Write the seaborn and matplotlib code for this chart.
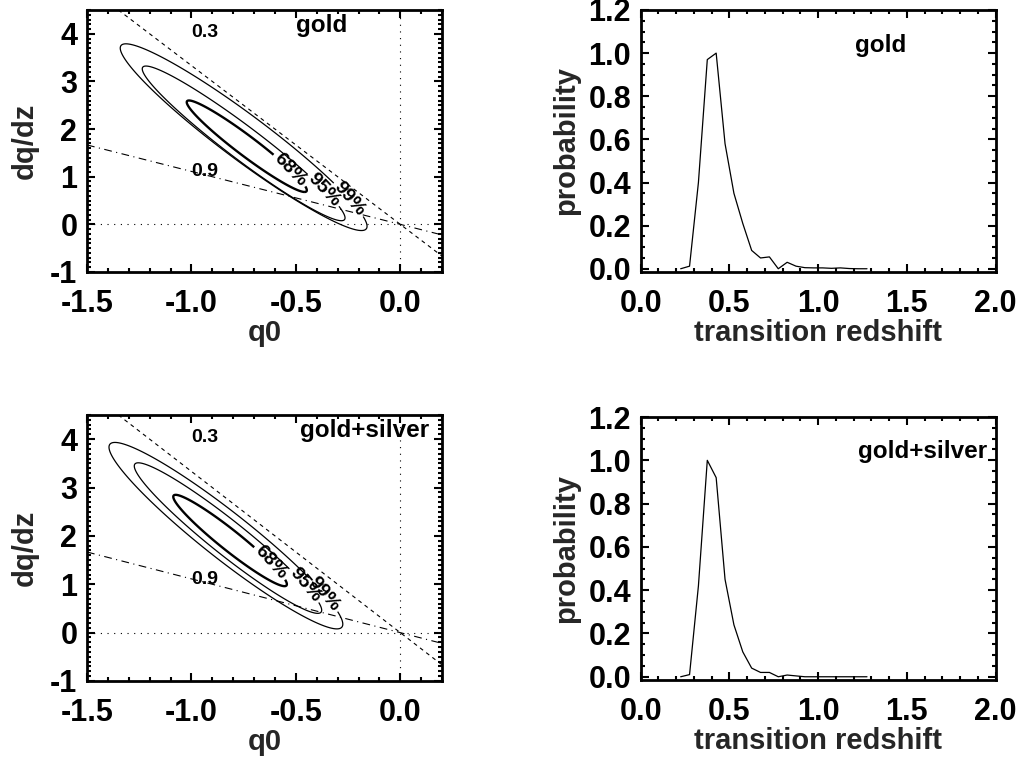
import numpy as np
import matplotlib
matplotlib.use("Agg")
import matplotlib.pyplot as plt
import seaborn as sns
from matplotlib.ticker import MultipleLocator, FormatStrFormatter

# transition redshift probability curves
z_bins = [0.225, 0.275, 0.325, 0.375, 0.425, 0.475, 0.525, 0.575, 0.625, 0.675,
          0.725, 0.775, 0.825, 0.875, 0.925, 0.975, 1.025, 1.075, 1.125, 1.175,
          1.225, 1.275]
prob_gold = [0.0, 0.012, 0.40, 0.97, 1.0, 0.58, 0.35, 0.21, 0.085, 0.05,
             0.055, 0.0, 0.03, 0.012, 0.005, 0.004, 0.004, 0.002, 0.004, 0.001,
             0.0, 0.0]
prob_gs = [0.0, 0.01, 0.42, 1.0, 0.92, 0.45, 0.24, 0.115, 0.04, 0.02,
           0.02, 0.0, 0.008, 0.004, 0.0, 0.0, 0.0, 0.0, 0.0, 0.0,
           0.0, 0.0]

# confidence ellipses in the (q0, dq/dz) plane: 68%, 95%, 99%
conf_labels = ["68%", "95%", "99%"]
gold_q0 = [-0.735, -0.75, -0.75]
gold_dqdz = [1.64, 1.70, 1.83]
gold_major = [1.0, 1.69, 2.04]
gold_minor = [0.075, 0.125, 0.17]
gold_slope = -3.45
gold_lab_pos = [(-0.53, 1.13), (-0.36, 0.75), (-0.26, 0.47)]

gs_q0 = [-0.815, -0.825, -0.835]
gs_dqdz = [1.905, 1.955, 2.005]
gs_major = [0.98, 1.615, 2.0]
gs_minor = [0.075, 0.125, 0.17]
gs_slope = -3.6
gs_lab_pos = [(-0.62, 1.45), (-0.455, 0.99), (-0.37, 0.78)]

# transition redshift lines q0 + z_t dq/dz = 0
zt_values = [0.3, 0.9]
zt_label_pos = [(-0.935, 4.03), (-0.935, 1.1)]

sns.set_theme(style="ticks")
plt.rcParams['font.family'] = ['Liberation Sans', 'DejaVu Sans']
plt.rcParams['font.weight'] = 'bold'
plt.rcParams['axes.unicode_minus'] = False

fig = plt.figure(figsize=(10.19, 7.57), dpi=100)
ax_tl = fig.add_axes([0.0854, 0.6407, 0.3484, 0.3461])
ax_tr = fig.add_axes([0.6288, 0.6407, 0.3483, 0.3461])
ax_bl = fig.add_axes([0.0854, 0.1004, 0.3484, 0.3514])
ax_br = fig.add_axes([0.6288, 0.1017, 0.3483, 0.3474])


def style_axes(ax, xmaj, xmin, ymaj, ymin, yfmt):
    for s in ax.spines.values():
        s.set_linewidth(2.0)
        s.set_color('black')
    ax.xaxis.set_major_locator(MultipleLocator(xmaj))
    ax.xaxis.set_minor_locator(MultipleLocator(xmin))
    ax.yaxis.set_major_locator(MultipleLocator(ymaj))
    ax.yaxis.set_minor_locator(MultipleLocator(ymin))
    ax.xaxis.set_major_formatter(FormatStrFormatter('%.1f'))
    ax.yaxis.set_major_formatter(FormatStrFormatter(yfmt))
    ax.tick_params(which='both', direction='in', top=True, right=True,
                   color='black', width=1.5, labelsize=22, labelcolor='black')
    ax.tick_params(which='major', length=6)
    ax.tick_params(which='minor', length=3)
    ax.tick_params(axis='x', which='major', pad=12)
    ax.tick_params(axis='y', which='major', pad=7)
    for lab in ax.get_xticklabels() + ax.get_yticklabels():
        lab.set_fontweight('bold')


def ellipse_field(Q, D, cq, cd, a, b, slope):
    n = np.hypot(1.0, slope)
    ex, ey = 1.0 / n, slope / n
    u = (Q - cq) * ex + (D - cd) * ey
    v = -(Q - cq) * ey + (D - cd) * ex
    return (u / a) ** 2 + (v / b) ** 2


qgrid = np.linspace(-1.6, 0.3, 500)
dgrid = np.linspace(-1.2, 4.7, 500)
Q, D = np.meshgrid(qgrid, dgrid)


def contour_panel(ax, cqs, cds, majors, minors, slope, lab_pos, tag, tag_xy, tag_ha):
    ax.axvline(0, color='black', lw=0.8, dashes=(1, 5))
    ax.axhline(0, color='black', lw=0.8, dashes=(1, 5))
    ax.axline((0, 0), slope=-1 / zt_values[0], color='black', lw=0.8, dashes=(3.5, 3.5))
    ax.axline((0, 0), slope=-1 / zt_values[1], color='black', lw=0.8, dashes=(7, 4, 1, 4))
    for zt, (tx, ty) in zip(zt_values, zt_label_pos):
        ax.text(tx, ty, f"{zt:.1f}", ha='center', va='center', fontsize=14,
                fontweight='bold', color='black')
    for i in range(3):
        F = ellipse_field(Q, D, cqs[i], cds[i], majors[i], minors[i], slope)
        cs = ax.contour(Q, D, F, levels=[1.0], colors='black',
                        linewidths=1.7 if i == 0 else 0.9)
        ax.clabel(cs, fmt={1.0: conf_labels[i]}, manual=[lab_pos[i]],
                  inline=True, fontsize=14, inline_spacing=1)
    ax.text(tag_xy[0], tag_xy[1], tag, ha=tag_ha, va='center', fontsize=17.5,
            fontweight='bold', color='black')
    ax.set_xlim(-1.5, 0.2)
    ax.set_ylim(-1.0, 4.5)
    style_axes(ax, 0.5, 0.1, 1, 0.1, '%d')
    ax.set_xlabel('q0', fontsize=21, fontweight='bold', labelpad=0)
    ax.set_ylabel('dq/dz', fontsize=21, fontweight='bold', labelpad=8)


def prob_panel(ax, prob, tag, tag_xy, tag_ha):
    sns.lineplot(x=z_bins, y=prob, ax=ax, color='black', lw=0.9)
    ax.text(tag_xy[0], tag_xy[1], tag, ha=tag_ha, va='center', fontsize=17.5,
            fontweight='bold', color='black')
    ax.set_xlim(0, 2.0)
    ax.set_ylim(-0.015, 1.2)
    style_axes(ax, 0.5, 0.1, 0.2, 0.05, '%.1f')
    ax.set_xlabel('transition redshift', fontsize=21, fontweight='bold', labelpad=0)
    ax.set_ylabel('probability', fontsize=21, fontweight='bold', labelpad=6)


contour_panel(ax_tl, gold_q0, gold_dqdz, gold_major, gold_minor, gold_slope,
              gold_lab_pos, 'gold', (-0.375, 4.17), 'center')
contour_panel(ax_bl, gs_q0, gs_dqdz, gs_major, gs_minor, gs_slope,
              gs_lab_pos, 'gold+silver', (0.14, 4.18), 'right')
prob_panel(ax_tr, prob_gold, 'gold', (1.354, 1.036), 'center')
prob_panel(ax_br, prob_gs, 'gold+silver', (1.95, 1.04), 'right')

fig.savefig('out.png', dpi=100)
